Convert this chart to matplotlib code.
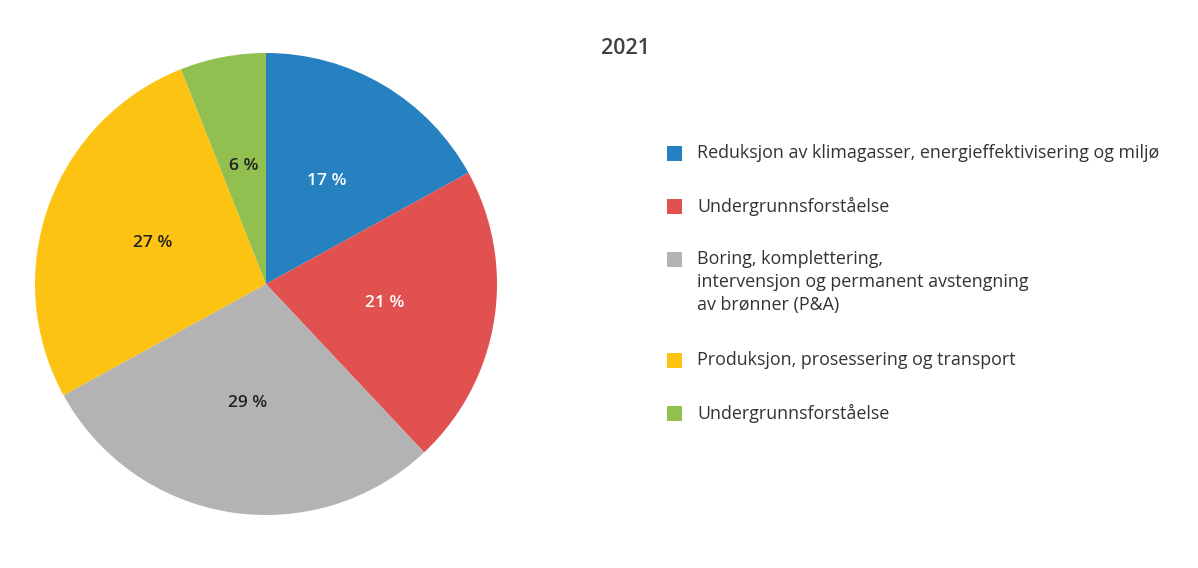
import matplotlib
matplotlib.use("Agg")
import matplotlib.pyplot as plt
from matplotlib.patches import Rectangle

# Data
categories = [
    "Reduksjon av klimagasser, energieffektivisering og miljø",
    "Undergrunnsforståelse",
    "Boring, komplettering,\nintervensjon og permanent avstengning\nav brønner (P&A)",
    "Produksjon, prosessering og transport",
    "Undergrunnsforståelse",
]
shares = [17, 21, 29, 27, 6]
colors = ["#2681c1", "#e05150", "#b3b3b3", "#fcc312", "#91bf50"]
label_colors = ["white", "white", "#222222", "#222222", "#222222"]
title = "2021"

plt.rcParams["font.family"] = ["Open Sans", "DejaVu Sans"]

W, H, DPI = 1198, 568, 100
fig = plt.figure(figsize=(W / DPI, H / DPI), dpi=DPI)

# pie axes: centre (266, 284) px, radius 231 px
cx, cy, r = 266, 284, 231
ax = fig.add_axes([(cx - r) / W, (H - cy - r) / H, 2 * r / W, 2 * r / H])
wedges, texts, autotexts = ax.pie(
    shares, colors=colors, startangle=90, counterclock=False,
    autopct=lambda p: f"{p:.0f} %", pctdistance=0.52, radius=1,
    wedgeprops=dict(linewidth=0),
    textprops=dict(fontsize=12.5, fontweight="semibold"),
)
for t, c in zip(autotexts, label_colors):
    t.set_color(c)
ax.set_xlim(-1, 1)
ax.set_ylim(-1, 1)
ax.set_aspect("equal")

fig.text(625 / W, 1 - 48 / H, title, ha="center", va="center",
         fontsize=15.5, fontweight="semibold", color="#404040")

# legend, drawn by hand so multi-line entries align with the first line
y = 153
line_px = 24
for lab, col in zip(categories, colors):
    fig.add_artist(Rectangle((667 / W, 1 - (y + 7.5) / H), 15 / W, 15 / H,
                             transform=fig.transFigure, color=col, lw=0))
    fig.text(697 / W, 1 - (y - 9) / H, lab, ha="left", va="top",
             fontsize=12.9, color="#333333", linespacing=1.34)
    y += 53 + (lab.count("\n")) * line_px

fig.savefig("out.png", dpi=DPI)
